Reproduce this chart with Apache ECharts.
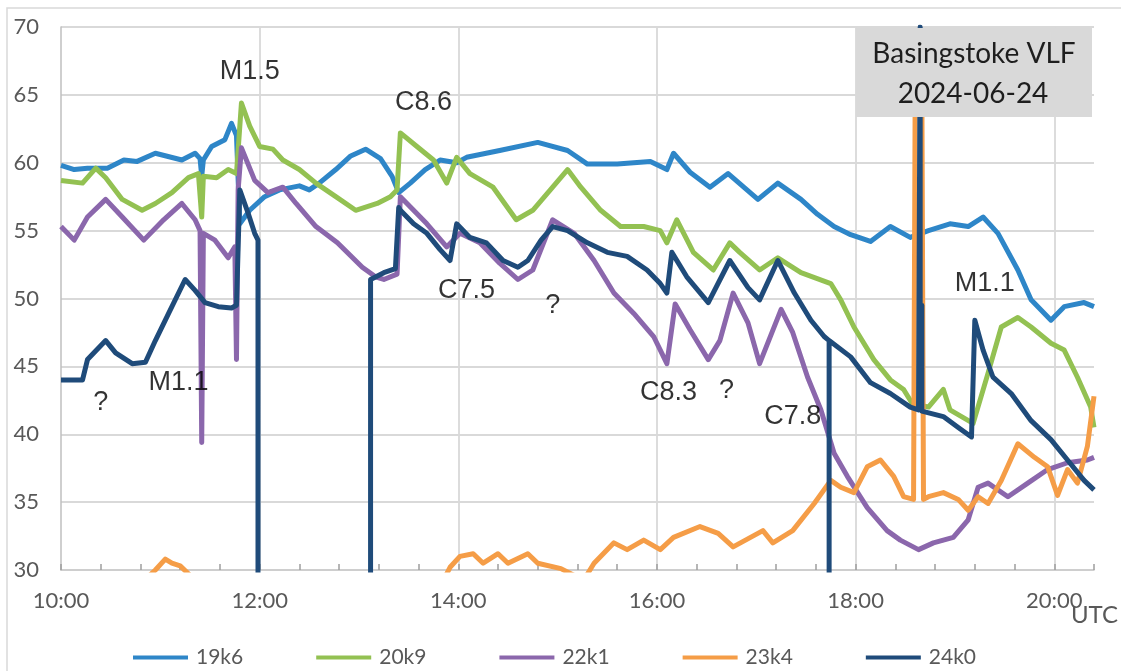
<!DOCTYPE html>
<html>
<head>
<meta charset="utf-8">
<script src="https://cdn.jsdelivr.net/npm/echarts/dist/echarts.min.js"></script>
<style>
  html, body { margin: 0; padding: 0; background: #fff; }
  #chart { width: 1121px; height: 671px; }
</style>
</head>
<body>
<div id="chart"></div>
<script>
// VLF received signal strength, Basingstoke, 2024-06-24 (UTC time, dB)
const seriesNames = ['19k6', '20k9', '22k1', '23k4', '24k0'];

const s19k6 = [
  ["10:00",59.8],["10:08",59.5],["10:16",59.6],["10:28",59.6],["10:38",60.2],["10:46",60.1],["10:57",60.7],["11:13",60.2],["11:21",60.7],
  ["11:24",60.3],["11:25",59.0],["11:26",60.2],["11:31",61.2],["11:39",61.7],["11:43",62.9],["11:46",62.0],
  ["11:48",55.5],["11:54",56.5],["12:03",57.5],["12:12",58.0],["12:24",58.3],["12:30",58.0],["12:36",58.5],
  ["12:46",59.5],["12:55",60.5],["13:04",61.0],["13:13",60.3],["13:20",59.0],["13:24",57.8],["13:31",58.5],
  ["13:40",59.5],["13:49",60.2],["13:59",60.0],["14:05",60.4],["14:25",60.9],["14:48",61.5],["15:06",60.9],
  ["15:18",59.9],["15:36",59.9],["15:56",60.1],["16:06",59.5],["16:10",60.7],["16:20",59.3],["16:32",58.2],
  ["16:43",59.2],["17:01",57.3],["17:13",58.5],["17:27",57.3],["17:37",56.2],["17:47",55.3],["17:57",54.7],
  ["18:09",54.2],["18:21",55.3],["18:33",54.5],["18:44",55.0],["18:57",55.5],["19:08",55.3],["19:17",56.0],
  ["19:26",54.8],["19:38",52.1],["19:46",49.9],["19:58",48.4],["20:06",49.4],["20:18",49.7],["20:24",49.4]
];

const s20k9 = [
  ["10:00",58.7],["10:13",58.5],["10:21",59.6],["10:27",58.9],["10:37",57.3],["10:49",56.5],["10:57",57.0],
  ["11:07",57.8],["11:17",58.9],["11:23",59.2],["11:25",56.0],["11:26",59.0],["11:34",58.9],["11:41",59.5],
  ["11:46",59.2],["11:49",64.4],["11:54",62.7],["12:00",61.2],["12:08",61.0],["12:14",60.2],["12:24",59.5],
  ["12:34",58.5],["12:46",57.5],["12:58",56.5],["13:11",57.0],["13:19",57.5],["13:23",58.0],["13:25",62.2],
  ["13:35",61.2],["13:45",60.2],["13:53",58.5],["13:59",60.4],["14:07",59.2],["14:21",58.2],["14:35",55.8],
  ["14:45",56.5],["14:57",58.2],["15:06",59.5],["15:14",58.2],["15:26",56.5],["15:38",55.3],["15:52",55.3],
  ["16:02",55.0],["16:06",54.1],["16:12",55.8],["16:22",53.4],["16:34",52.1],["16:44",54.1],["16:50",53.4],
  ["17:02",52.1],["17:13",53.0],["17:27",51.9],["17:45",51.1],["17:51",49.9],["17:59",47.9],["18:11",45.5],
  ["18:21",44.0],["18:29",43.3],["18:34",42.3],["18:44",42.0],["18:53",43.3],["18:57",41.8],["19:11",40.8],
  ["19:20",44.5],["19:28",47.9],["19:38",48.6],["19:46",47.9],["19:58",46.7],["20:06",46.2],["20:14",44.2],
  ["20:22",42.0],["20:24",40.5]
];

const s22k1 = [
  ["10:00",55.3],["10:08",54.3],["10:16",56.0],["10:27",57.3],["10:37",56.0],["10:50",54.3],["11:02",55.8],
  ["11:13",57.0],["11:21",55.8],["11:24",55.0],["11:25",39.4],["11:26",54.8],["11:33",54.3],["11:41",53.0],
  ["11:45",53.8],["11:46",45.5],["11:47",58.0],["11:49",61.1],["11:57",58.7],["12:05",57.8],["12:14",58.2],
  ["12:22",57.0],["12:34",55.3],["12:47",54.1],["13:02",52.3],["13:10",51.6],["13:15",51.4],["13:23",51.8],
  ["13:25",57.5],["13:41",55.5],["13:53",53.8],["14:01",54.8],["14:13",54.1],["14:25",52.6],["14:36",51.4],
  ["14:45",52.1],["14:57",55.8],["15:10",54.8],["15:22",52.8],["15:34",50.4],["15:46",48.9],["15:58",47.2],
  ["16:06",45.2],["16:11",49.6],["16:20",47.7],["16:31",45.5],["16:38",46.9],["16:46",50.4],["16:55",48.2],
  ["17:02",45.2],["17:15",49.2],["17:22",47.5],["17:31",44.2],["17:39",41.8],["17:47",38.6],["17:55",36.9],
  ["18:07",34.6],["18:19",32.9],["18:27",32.2],["18:38",31.5],["18:47",32.0],["18:59",32.4],["19:08",33.7],
  ["19:14",36.1],["19:20",36.4],["19:32",35.4],["19:44",36.4],["19:56",37.4],["20:08",37.9],["20:20",38.1],
  ["20:24",38.3]
];

const s23k4 = [
  ["10:00",28.5],["10:50",29.2],["10:57",30.0],["11:03",30.8],["11:07",30.5],["11:12",30.3],["11:18",29.6],
  ["11:25",29.0],["13:50",29.0],["13:55",30.2],["14:01",31.0],["14:09",31.2],["14:15",30.5],["14:24",31.2],
  ["14:30",30.5],["14:42",31.2],["14:48",30.5],["15:02",30.1],["15:10",29.6],["15:17",29.5],["15:22",30.5],
  ["15:34",32.0],["15:42",31.5],["15:52",32.2],["16:02",31.5],["16:10",32.4],["16:26",33.2],["16:37",32.7],
  ["16:46",31.7],["17:04",32.9],["17:10",32.0],["17:22",32.9],["17:35",34.9],["17:45",36.6],["17:51",36.1],
  ["17:59",35.7],["18:07",37.6],["18:15",38.1],["18:23",36.9],["18:29",35.4],["18:35",35.2],["18:36",66.0],
  ["18:40",66.0],["18:41",35.2],["18:44",35.4],["18:53",35.7],["19:02",35.2],["19:08",34.4],["19:14",35.4],
  ["19:20",34.9],["19:28",36.6],["19:38",39.3],["19:48",38.3],["19:56",37.6],["20:02",35.5],["20:08",37.4],
  ["20:14",36.4],["20:20",39.1],["20:24",42.8]
];

const s24k0 = [
  ["10:00",44.0],["10:13",44.0],["10:16",45.5],["10:27",46.9],["10:33",46.0],["10:43",45.2],["10:51",45.3],
  ["10:57",46.9],["11:05",48.9],["11:15",51.4],["11:21",50.6],["11:27",49.7],["11:35",49.4],["11:43",49.3],
  ["11:46",49.5],["11:48",58.0],["11:53",56.3],["11:57",54.8],["11:59",54.3],["11:59",20.0],["13:07",20.0],
  ["13:07",51.4],["13:15",51.9],["13:22",52.2],["13:24",56.7],["13:25",56.5],["13:33",55.5],["13:41",54.8],
  ["13:49",53.6],["13:55",52.8],["13:59",55.5],["14:07",54.5],["14:17",54.1],["14:27",52.8],["14:36",52.3],
  ["14:42",52.8],["14:50",54.3],["14:57",55.3],["15:06",55.0],["15:18",54.1],["15:30",53.4],["15:42",53.1],
  ["15:54",52.1],["16:02",51.1],["16:06",50.4],["16:09",53.4],["16:18",51.6],["16:31",49.7],["16:44",52.8],
  ["16:55",50.8],["17:02",49.9],["17:13",52.8],["17:23",50.4],["17:33",48.4],["17:41",47.2],["17:44",46.9],
  ["17:44",20.0],["17:44",46.9],["17:57",45.7],["18:09",43.8],["18:21",43.0],["18:33",42.0],["18:38",41.8],
  ["18:39",70.0],["18:39",44.0],["18:40",49.5],["18:40",41.7],["18:53",41.3],["19:02",40.5],["19:10",39.8],
  ["19:12",48.4],["19:17",46.2],["19:23",44.2],["19:34",43.0],["19:46",41.0],["19:58",39.6],["20:08",38.1],
  ["20:18",36.6],["20:24",35.9]
];

// Flare class notes, anchored at time / level
const notes = [
  ["11:54",66.7,"M1.5"], ["13:39",64.4,"C8.6"], ["14:05",50.55,"C7.5"], ["14:57",49.45,"?"],
  ["11:11",43.8,"M1.1"], ["10:24",42.3,"?"], ["16:07",43.1,"C8.3"], ["16:42",43.2,"?"],
  ["17:22",41.3,"C7.8"], ["19:18",51.1,"M1.1"]
];

const yTicks = { min: 30, max: 70, step: 5 };
const xHours = { min: 10, max: 20.4, major: 2, minorSplit: 5 };

const toHours = s => { const [h, m] = s.split(':').map(Number); return h + m / 60; };
const pts = arr => arr.map(([t, v]) => [toHours(t), v]);

const colors = ['#2E86C8', '#93C152', '#8B67AC', '#F59D47', '#1F4B7A'];
const seriesData = [s19k6, s20k9, s22k1, s23k4, s24k0];

const FONT = 'Lato, "Open Sans", sans-serif';
const GRID = '#D9D9D9';
const AXIS = '#BFBFBF';
const TICK = '#9E9E9E';
const TEXT = '#595959';

const chart = echarts.init(document.getElementById('chart'), null, { renderer: 'canvas' });

const lineSeries = seriesNames.map((name, i) => ({
  type: 'line',
  name,
  data: pts(seriesData[i]),
  symbol: 'none',
  showSymbol: false,
  clip: true,
  color: colors[i],
  lineStyle: { width: 5, color: colors[i], join: 'round' },
  itemStyle: { color: colors[i] },
  z: 2 + i * 0.1
}));

// text-only scatter carrying the flare labels
const noteSeries = {
  type: 'scatter',
  name: 'notes',
  silent: true,
  symbolSize: 1,
  itemStyle: { color: 'rgba(0,0,0,0)' },
  data: notes.map(([t, v, txt]) => ({ value: [toHours(t), v], label: { formatter: txt } })),
  label: {
    show: true,
    position: 'inside',
    color: '#000',
    fontFamily: '"Liberation Sans", Arial, sans-serif',
    fontSize: 27
  },
  z: 10
};

chart.setOption({
  animation: false,
  backgroundColor: '#ffffff',
  grid: { left: 61, top: 27, right: 27, bottom: 101, containLabel: false },
  xAxis: {
    type: 'value',
    min: xHours.min, max: xHours.max, interval: xHours.major,
    axisLine: { show: true, lineStyle: { color: AXIS, width: 1.5 } },
    axisTick: { show: true, inside: true, length: 6, lineStyle: { color: TICK, width: 1.5 } },
    minorTick: { show: true, splitNumber: xHours.minorSplit, length: 6, lineStyle: { color: TICK, width: 1.5 } },
    axisLabel: {
      margin: 20, color: TEXT, fontFamily: FONT, fontSize: 22, showMaxLabel: false,
      formatter: v => String(Math.round(v)).padStart(2, '0') + ':00'
    },
    splitLine: { show: true, showMinLine: false, showMaxLine: false, lineStyle: { color: GRID, width: 1.8 } }
  },
  yAxis: {
    type: 'value',
    min: yTicks.min, max: yTicks.max, interval: yTicks.step,
    axisLine: { show: true, lineStyle: { color: AXIS, width: 1.5 } },
    axisTick: { show: false },
    axisLabel: { margin: 22, color: TEXT, fontFamily: FONT, fontSize: 22 },
    splitLine: { show: true, showMinLine: false, lineStyle: { color: GRID, width: 1.8 } }
  },
  legend: {
    data: seriesNames,
    left: 128, top: 642,
    icon: 'rect', itemWidth: 55, itemHeight: 4, itemGap: 73,
    textStyle: { fontFamily: FONT, fontSize: 21, color: TEXT, padding: [0, 0, 0, 3] }
  },
  graphic: [
    { type: 'rect', silent: true, z: -10, shape: { x: 7, y: 8, width: 1300, height: 800 },
      style: { fill: 'none', stroke: GRID, lineWidth: 1.5 } },
    { type: 'rect', silent: true, z: 100, shape: { x: 856, y: 28, width: 236, height: 89 },
      style: { fill: '#D9D9D9' } },
    { type: 'text', silent: true, z: 101, x: 974, y: 54,
      style: { text: 'Basingstoke VLF', fontFamily: FONT, fontSize: 28, fill: '#1E1E1E', align: 'center', verticalAlign: 'middle' } },
    { type: 'text', silent: true, z: 101, x: 973, y: 94,
      style: { text: '2024-06-24', fontFamily: FONT, fontSize: 28, fill: '#1E1E1E', align: 'center', verticalAlign: 'middle' } },
    { type: 'text', silent: true, z: 101, x: 1118, y: 615,
      style: { text: 'UTC', fontFamily: FONT, fontSize: 24, fill: TEXT, align: 'right', verticalAlign: 'middle' } }
  ],
  series: [...lineSeries, noteSeries]
});
</script>
</body>
</html>
